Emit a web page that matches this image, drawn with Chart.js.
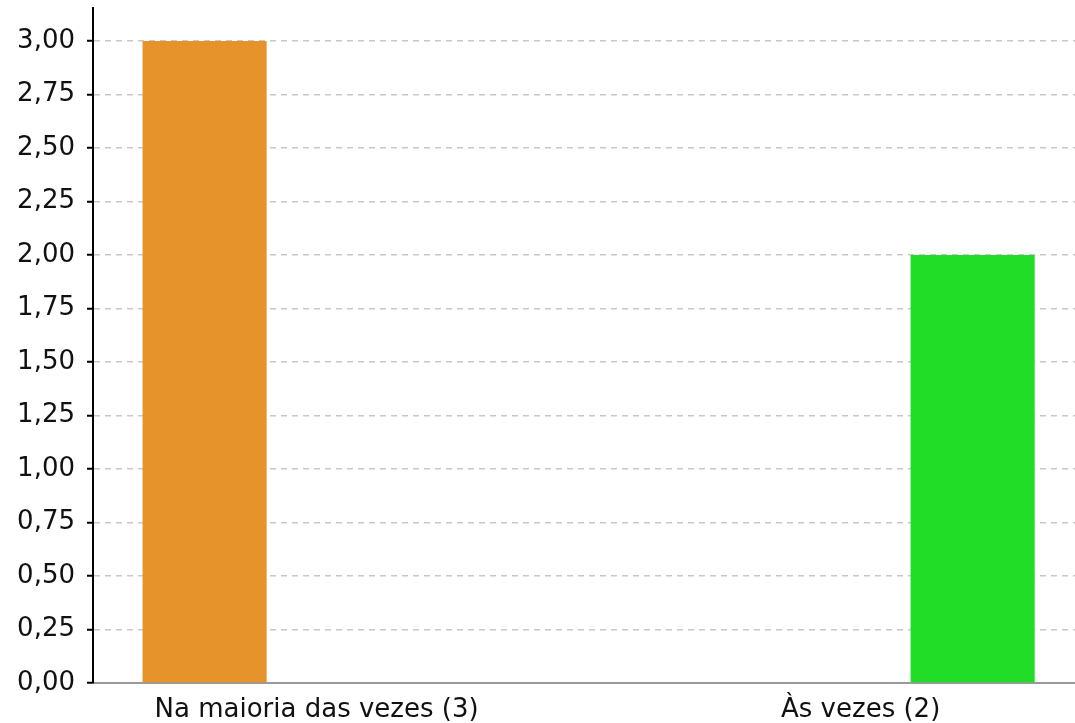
<!DOCTYPE html>
<html>
<head>
<meta charset="utf-8">
<script src="https://cdn.jsdelivr.net/npm/chart.js@4"></script>
<style>
  html, body { margin: 0; padding: 0; background: #fff; }
  #wrap { width: 1075px; height: 723px; position: relative; }
</style>
</head>
<body>
<div id="wrap"><canvas id="barChart"></canvas></div>
<script>
const categories = ['Na maioria das vezes (3)', 'Às vezes (2)'];
const values = [3, 2];
const barColors = ['#e6932b', '#22dd27'];
const yTicks = [0, 0.25, 0.5, 0.75, 1, 1.25, 1.5, 1.75, 2, 2.25, 2.5, 2.75, 3];

Chart.defaults.font.family = "'DejaVu Sans', sans-serif";
Chart.defaults.font.size = 26;
Chart.defaults.color = '#111';

// one dataset per answer, so each bar sits in its own slot of the group
const datasets = categories.map((label, i) => ({
    label: label,
    data: [{x: i, y: values[i]}],
    backgroundColor: barColors[i],
    borderWidth: 0,
    categoryPercentage: 0.8235,
    barPercentage: 0.554
}));

const ctx = document.getElementById('barChart').getContext('2d');
new Chart(ctx, {
    type: 'bar',
    data: { datasets: datasets },
    options: {
        responsive: true,
        maintainAspectRatio: false,
        animation: false,
        layout: { padding: { top: 8, right: 0, bottom: 0, left: 0 } },
        plugins: {
            legend: { display: false },
            tooltip: { enabled: false }
        },
        scales: {
            x: {
                type: 'linear',
                offset: false,
                min: -0.411,
                max: 1.394,
                z: 1,
                grid: { display: false },
                border: { display: true, color: '#9a9a9a', width: 2 },
                afterBuildTicks: (s) => { s.ticks = categories.map((_, i) => ({value: i})); },
                afterFit: (s) => { s.height = 40; },
                ticks: {
                    padding: 4,
                    maxRotation: 0,
                    autoSkip: false,
                    callback: (v) => categories[v]
                }
            },
            y: {
                min: 0,
                max: 3.154,
                afterBuildTicks: (s) => { s.ticks = yTicks.map(v => ({value: v})); },
                afterFit: (s) => { s.width = 93; s.paddingTop = 0; s.paddingBottom = 0; },
                grid: {
                    color: (c) => (c.tick && c.tick.value === 0) ? '#555' : '#c8c8c8',
                    lineWidth: 1.5,
                    tickColor: '#000',
                    tickWidth: 2,
                    tickLength: 6,
                    tickBorderDash: []
                },
                border: { display: true, color: '#000', width: 2, dash: [6, 5] },
                ticks: {
                    padding: 12,
                    callback: (v) => v.toFixed(2).replace('.', ',')
                }
            }
        }
    }
});
</script>
</body>
</html>
